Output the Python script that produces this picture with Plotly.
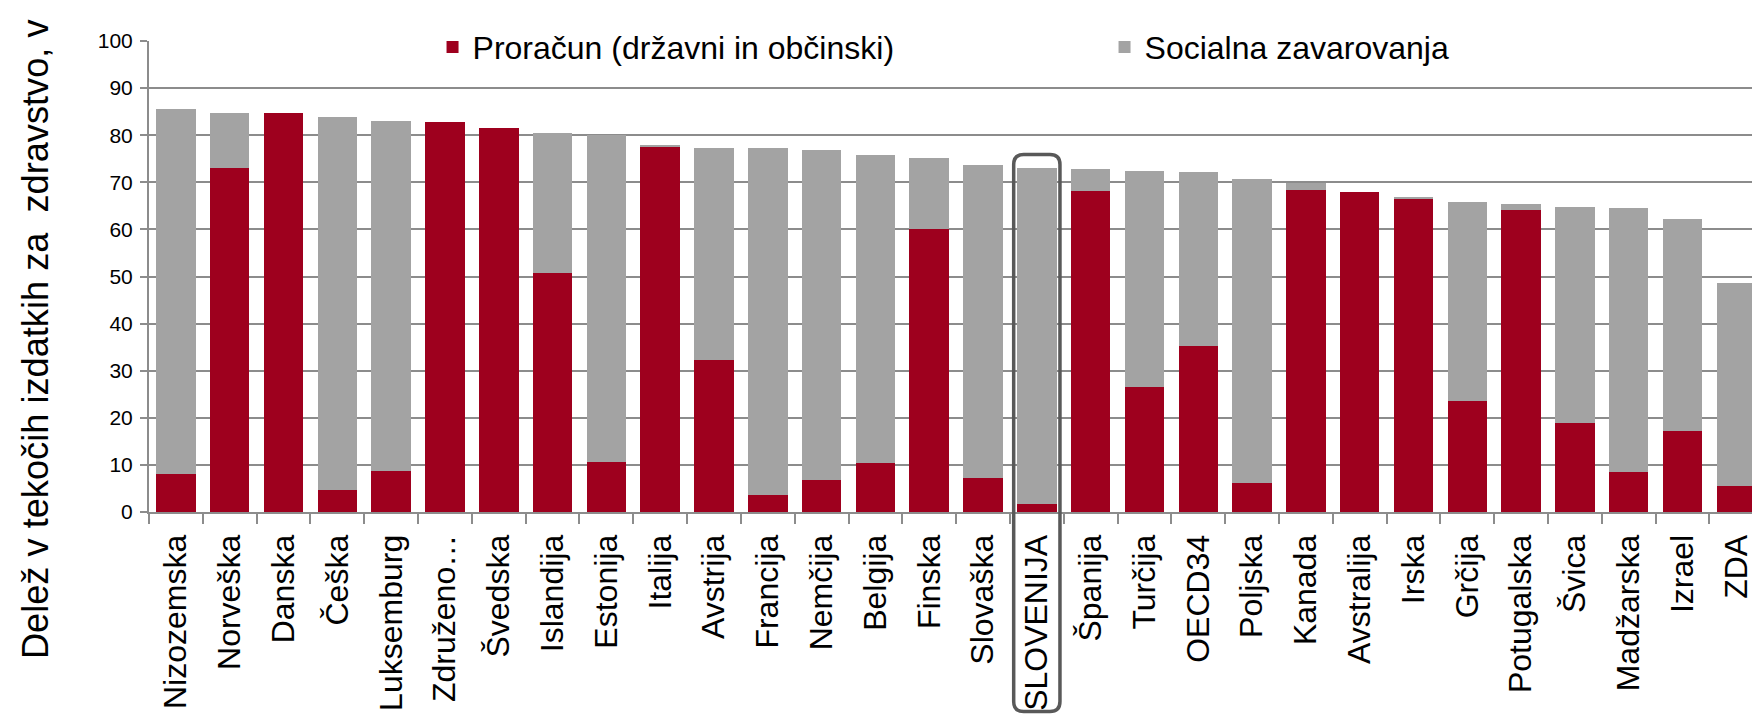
import plotly.graph_objects as go

# Delež v tekočih izdatkih za zdravstvo (v %), po virih financiranja
drzave = ["Nizozemska", "Norveška", "Danska", "Češka", "Luksemburg", "Združeno…",
          "Švedska", "Islandija", "Estonija", "Italija", "Avstrija", "Francija",
          "Nemčija", "Belgija", "Finska", "Slovaška", "SLOVENIJA", "Španija",
          "Turčija", "OECD34", "Poljska", "Kanada", "Avstralija", "Irska",
          "Grčija", "Potugalska", "Švica", "Madžarska", "Izrael", "ZDA"]

proracun = [8.1, 73.1, 84.7, 4.7, 8.7, 82.8, 81.6, 50.7, 10.7, 77.5,
            32.3, 3.6, 6.9, 10.4, 60.1, 7.2, 1.6, 68.1, 26.6, 35.3,
            6.2, 68.4, 67.9, 66.6, 23.5, 64.1, 18.9, 8.4, 17.2, 5.6]

socialna = [77.4, 11.7, 0.0, 79.1, 74.3, 0.0, 0.0, 29.7, 69.4, 0.3,
            44.9, 73.6, 70.0, 65.5, 15.1, 66.5, 71.4, 4.7, 45.9, 36.9,
            64.5, 1.4, 0.0, 0.3, 42.3, 1.4, 45.9, 56.1, 45.1, 43.1]

y_ticks = [0, 10, 20, 30, 40, 50, 60, 70, 80, 90, 100]

poudarek = "SLOVENIJA"

RDECA = "#9e001e"
SIVA = "#a3a3a3"
MREZA = "#8c8c8c"
FONT = "Liberation Sans, Arial, sans-serif"

# stran ima privzeti rob 8 px, zato je vse zamaknjeno
W, H = 1760, 714
ML, MR, MT, MB = 141, 8, 33, 210
x_range = [-0.5, len(drzave) - 0.56]

fig = go.Figure()
fig.add_trace(go.Bar(name="Proračun (državni in občinski)", x=drzave, y=proracun,
                     marker_color=RDECA, marker_line_width=0))
fig.add_trace(go.Bar(name="Socialna zavarovanja", x=drzave, y=socialna,
                     marker_color=SIVA, marker_line_width=0))

fig.update_layout(
    width=W, height=H,
    margin=dict(l=ML, r=MR, t=MT, b=MB, autoexpand=False),
    barmode="stack",
    bargap=0.266,
    plot_bgcolor="white",
    paper_bgcolor="white",
    font=dict(family=FONT, color="black"),
    showlegend=True,
    legend=dict(orientation="h", x=0.176, xanchor="left", y=0.987, yanchor="middle",
                bgcolor="rgba(0,0,0,0)", font=dict(size=32, color="black"),
                entrywidth=627, traceorder="normal"),
)

fig.update_xaxes(
    type="category", range=x_range,
    showline=True, linecolor=MREZA, linewidth=2,
    ticks="outside", tickson="boundaries", ticklen=10, tickcolor=MREZA, tickwidth=2,
    tickangle=-90, tickfont=dict(size=32, color="black"),
    ticklabelstandoff=8,
    showgrid=False,
)
fig.update_yaxes(
    range=[0, 100], tickvals=y_ticks,
    showline=True, linecolor=MREZA, linewidth=2,
    ticks="outside", ticklen=7, tickcolor=MREZA, tickwidth=2,
    ticklabelstandoff=3,
    tickfont=dict(size=21, color="black"),
    showgrid=True, gridcolor=MREZA, gridwidth=2,
    zeroline=False,
)

# naslov osi y (zgoraj odrezan kot v izvirniku)
fig.add_annotation(
    text="Delež v tekočih izdatkih za  zdravstvo, v (%)",
    xref="paper", yref="paper", x=-0.0703, y=-0.317,
    xanchor="center", yanchor="bottom", textangle=-90,
    showarrow=False, font=dict(size=36.2, color="black"),
)

# zaobljen okvir okoli Slovenije
i = drzave.index(poudarek)
skupaj = proracun[i] + socialna[i]
span = x_range[1] - x_range[0]
pw = W - ML - MR
ph = H - MT - MB
x0 = (i - 0.43 - x_range[0]) / span
x1 = (i + 0.43 - x_range[0]) / span
yt = (skupaj + 2.9) / 100
yb = -0.4236
rx = 10 / pw
ry = 10 / ph
path = (f"M {x0 + rx},{yt} L {x1 - rx},{yt} Q {x1},{yt} {x1},{yt - ry} "
        f"L {x1},{yb + ry} Q {x1},{yb} {x1 - rx},{yb} "
        f"L {x0 + rx},{yb} Q {x0},{yb} {x0},{yb + ry} "
        f"L {x0},{yt - ry} Q {x0},{yt} {x0 + rx},{yt} Z")
fig.add_shape(type="path", path=path, xref="paper", yref="paper",
              line=dict(color="#595959", width=3.5), layer="above")

fig.write_html("out.html")
